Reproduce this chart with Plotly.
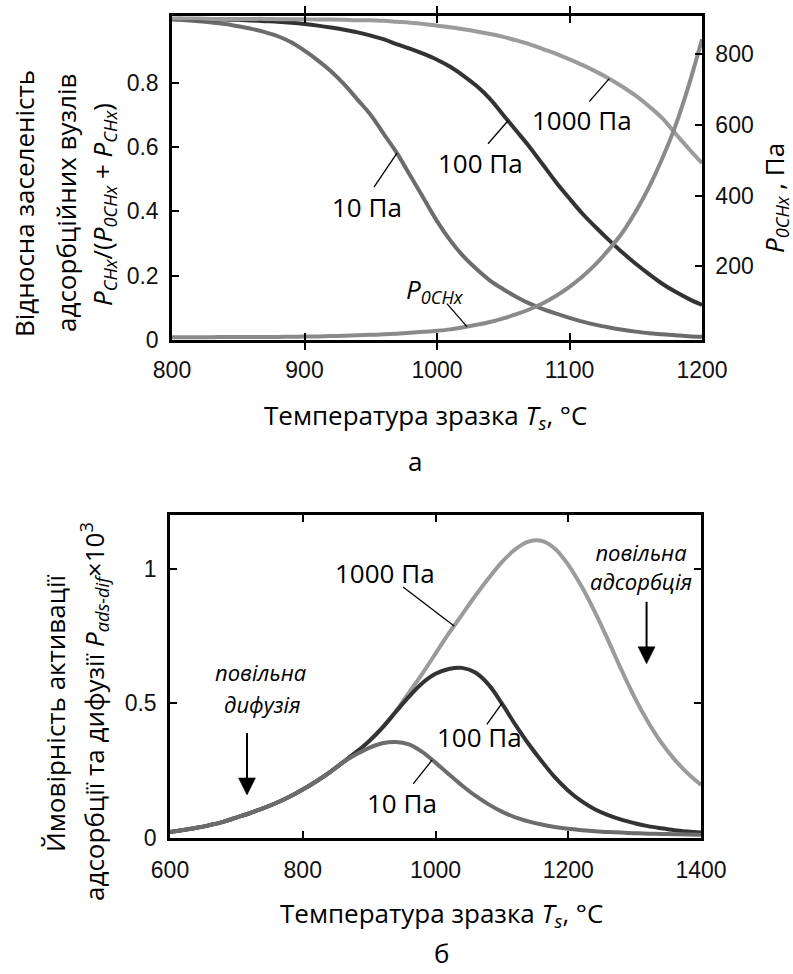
import numpy as np
import plotly.graph_objects as go

# ---------- panel (а): site occupancy vs temperature ----------
temp_a = [800, 810, 820, 830, 840, 850, 860, 870, 880, 890,
          900, 910, 920, 930, 940, 950, 960, 970, 980, 990,
          1000, 1010, 1020, 1030, 1040, 1050, 1060, 1070, 1080, 1090,
          1100, 1110, 1120, 1130, 1140, 1150, 1160, 1170, 1180, 1190, 1200]

occ_10pa = [0.997, 0.995, 0.992, 0.988, 0.983, 0.976, 0.968, 0.958, 0.945, 0.926,
            0.900, 0.870, 0.836, 0.795, 0.748, 0.700, 0.640, 0.580, 0.510, 0.440,
            0.370, 0.310, 0.260, 0.220, 0.185, 0.158, 0.134, 0.113, 0.096, 0.082,
            0.069, 0.057, 0.047, 0.039, 0.032, 0.026, 0.021, 0.018, 0.015, 0.012, 0.010]

occ_100pa = [0.999, 0.999, 0.998, 0.998, 0.997, 0.996, 0.994, 0.992, 0.990, 0.987,
             0.983, 0.978, 0.972, 0.965, 0.957, 0.947, 0.935, 0.920, 0.906, 0.890,
             0.872, 0.850, 0.822, 0.790, 0.750, 0.700, 0.650, 0.600, 0.545, 0.490,
             0.440, 0.392, 0.350, 0.310, 0.272, 0.237, 0.205, 0.175, 0.150, 0.128, 0.109]

occ_1000pa = [1.000, 1.000, 1.000, 0.999, 0.999, 0.999, 0.999, 0.999, 0.998, 0.998,
              0.998, 0.997, 0.997, 0.996, 0.995, 0.995, 0.993, 0.990, 0.987, 0.983,
              0.978, 0.973, 0.967, 0.960, 0.952, 0.943, 0.932, 0.920, 0.905, 0.890,
              0.873, 0.855, 0.835, 0.813, 0.788, 0.760, 0.727, 0.690, 0.642, 0.595, 0.550]

p0_chx = [0.0, 0.0, 0.1, 0.1, 0.2, 0.3, 0.4, 0.6, 0.8, 1.2,
          1.6, 2.2, 3.0, 4.0, 5.2, 6.5, 8.0, 10.0, 12.5, 15.0,
          18.0, 22.0, 28.0, 35.0, 43.0, 53.0, 65.0, 79.0, 96.0, 117.0,
          142.0, 172.0, 207.0, 249.0, 296.0, 355.0, 424.0, 505.0, 598.0, 712.0, 842.0]

# ---------- panel (б): activation probability ----------
temp_b = [600, 620, 640, 660, 680, 700, 720, 740, 760, 780,
          800, 820, 840, 860, 880, 900, 920, 940, 960, 980,
          1000, 1020, 1040, 1060, 1080, 1100, 1120, 1140, 1160, 1180,
          1200, 1220, 1240, 1260, 1280, 1300, 1320, 1340, 1360, 1380, 1400]

prob_1000pa = [0.022, 0.030, 0.038, 0.048, 0.060, 0.076, 0.092, 0.110, 0.130, 0.153,
               0.180, 0.210, 0.243, 0.280, 0.318, 0.360, 0.410, 0.470, 0.540, 0.610,
               0.685, 0.760, 0.830, 0.900, 0.965, 1.025, 1.072, 1.101, 1.104, 1.075,
               1.015, 0.935, 0.840, 0.735, 0.625, 0.522, 0.432, 0.355, 0.292, 0.240, 0.197]

prob_100pa = [0.022, 0.030, 0.038, 0.048, 0.060, 0.076, 0.092, 0.110, 0.130, 0.153,
              0.180, 0.210, 0.243, 0.280, 0.318, 0.360, 0.410, 0.468, 0.525, 0.575,
              0.610, 0.628, 0.632, 0.615, 0.570, 0.500, 0.422, 0.350, 0.285, 0.225,
              0.176, 0.137, 0.107, 0.085, 0.068, 0.055, 0.044, 0.036, 0.029, 0.024, 0.020]

prob_10pa = [0.022, 0.030, 0.038, 0.048, 0.060, 0.076, 0.092, 0.110, 0.130, 0.153,
             0.180, 0.210, 0.243, 0.280, 0.310, 0.335, 0.352, 0.357, 0.348, 0.320,
             0.280, 0.237, 0.195, 0.157, 0.125, 0.098, 0.077, 0.062, 0.050, 0.041,
             0.034, 0.029, 0.025, 0.022, 0.020, 0.018, 0.016, 0.015, 0.014, 0.013, 0.012]

C_10 = "#6c6c6c"
C_100 = "#333333"
C_1000 = "#9b9b9b"
C_P0 = "#8a8a8a"

TXT = "Open Sans, Noto Sans, DejaVu Sans, sans-serif"
NUM = "Liberation Sans, Arial, sans-serif"
W, H = 793, 974
FS = 26

fig = go.Figure()

line_w = 4
fig.add_trace(go.Scatter(x=temp_a, y=occ_10pa, mode="lines", line=dict(color=C_10, width=line_w, shape="spline"), xaxis="x", yaxis="y"))
fig.add_trace(go.Scatter(x=temp_a, y=occ_100pa, mode="lines", line=dict(color=C_100, width=line_w, shape="spline"), xaxis="x", yaxis="y"))
fig.add_trace(go.Scatter(x=temp_a, y=occ_1000pa, mode="lines", line=dict(color=C_1000, width=line_w, shape="spline"), xaxis="x", yaxis="y"))
fig.add_trace(go.Scatter(x=temp_a, y=p0_chx, mode="lines", line=dict(color=C_P0, width=line_w, shape="spline"), xaxis="x", yaxis="y2"))

fig.add_trace(go.Scatter(x=temp_b, y=prob_1000pa, mode="lines", line=dict(color=C_1000, width=line_w, shape="spline"), xaxis="x2", yaxis="y3"))
fig.add_trace(go.Scatter(x=temp_b, y=prob_100pa, mode="lines", line=dict(color=C_100, width=line_w, shape="spline"), xaxis="x2", yaxis="y3"))
fig.add_trace(go.Scatter(x=temp_b, y=prob_10pa, mode="lines", line=dict(color=C_10, width=line_w, shape="spline"), xaxis="x2", yaxis="y3"))

axis_common = dict(
    showline=True, linecolor="black", linewidth=2.5,
    ticks="inside", ticklen=7, tickwidth=1.5, tickcolor="black",
    showgrid=False, zeroline=False, automargin=False,
    tickfont=dict(family=NUM, size=23, color="#111111"),
)

fig.update_layout(
    width=W, height=H,
    margin=dict(l=0, r=0, t=0, b=0, pad=0, autoexpand=False),
    paper_bgcolor="white", plot_bgcolor="white",
    showlegend=False,
    xaxis=dict(domain=[172 / W, 702 / W], range=[800, 1200], anchor="y",
               tickvals=[800, 900, 1000, 1100, 1200], mirror="allticks",
               ticklabelstandoff=8, **axis_common),
    yaxis=dict(domain=[1 - 340 / H, 1 - 16 / H], range=[0, 1.008], anchor="x",
               tickvals=[0, 0.2, 0.4, 0.6, 0.8], ticktext=["0", "0.2", "0.4", "0.6", "0.8"],
               mirror=True, ticklabelstandoff=6, **axis_common),
    yaxis2=dict(range=[-8, 908], overlaying="y", side="right", anchor="x",
                tickvals=[200, 400, 600, 800], ticklabelstandoff=6, **axis_common),
    xaxis2=dict(domain=[170 / W, 701 / W], range=[600, 1400], anchor="y3",
                tickvals=[600, 800, 1000, 1200, 1400], mirror="allticks",
                ticklabelstandoff=10, **axis_common),
    yaxis3=dict(domain=[1 - 838 / H, 1 - 515 / H], range=[0, 1.2], anchor="x2",
                tickvals=[0, 0.5, 1], ticktext=["0", "0.5", "1"], mirror="allticks",
                ticklabelstandoff=6, **axis_common),
)


def paper_text(px, py, text, size=FS, angle=0, italic=False):
    fig.add_annotation(
        x=px / W, y=1 - py / H, xref="paper", yref="paper",
        text=f"<i>{text}</i>" if italic else text,
        showarrow=False, textangle=angle,
        xanchor="center", yanchor="middle",
        font=dict(family=TXT, size=size, color="black"),
    )


def data_text(xr, yr, x, y, text, size=FS, italic=False):
    fig.add_annotation(
        x=x, y=y, xref=xr, yref=yr,
        text=f"<i>{text}</i>" if italic else text,
        showarrow=False, xanchor="center", yanchor="middle",
        font=dict(family=TXT, size=size, color="black"),
    )


def leader(xr, yr, temps, values, t, dx, dy):
    # thin pointer line from a point on a curve, offset (dx, dy) px (dy > 0 = downwards)
    fig.add_shape(
        type="line", xref=xr, yref=yr,
        xsizemode="pixel", ysizemode="pixel",
        xanchor=t, yanchor=float(np.interp(t, temps, values)),
        x0=0, y0=0, x1=dx, y1=-dy,
        line=dict(color="black", width=1.3),
    )


def down_arrow(xr, yr, x, y, length, head=17, half=8.5):
    # vertical arrow whose tip sits at (x, y)
    fig.add_shape(
        type="line", xref=xr, yref=yr, xsizemode="pixel", ysizemode="pixel",
        xanchor=x, yanchor=y, x0=0, x1=0, y0=head - 2, y1=length,
        line=dict(color="black", width=2),
    )
    fig.add_shape(
        type="path", xref=xr, yref=yr, xsizemode="pixel", ysizemode="pixel",
        xanchor=x, yanchor=y,
        path=f"M{-half},{head} L{half},{head} L0,0 Z",
        fillcolor="black", line=dict(color="black", width=0.5),
    )


# axis titles
paper_text(425, 416, "Температура зразка <i>T<sub>s</sub></i>, °C")
paper_text(415, 461, "а")
paper_text(24, 204, "Відносна заселеність", angle=-90)
paper_text(66, 203, "адсорбційних вузлів", angle=-90)
paper_text(103, 205, "<i>P</i><sub><i>CHx</i></sub>/(<i>P</i><sub><i>0CHx</i></sub> + <i>P</i><sub><i>CHx</i></sub>)", angle=-90)
paper_text(775, 198, "<i>P</i><sub><i>0CHx</i></sub> , Па", angle=-90)

paper_text(442, 914, "Температура зразка <i>T<sub>s</sub></i>, °C")
paper_text(441, 953, "б")
paper_text(55, 713, "Ймовірність активації", angle=-90)
paper_text(94, 712, "адсорбції та дифузії <i>P</i><sub><i>ads-dif</i></sub>×10<sup>3</sup>", angle=-90)

# panel (а) curve labels
data_text("x", "y", 946.8, 0.414, "10 Па")
data_text("x", "y", 1032.5, 0.551, "100 Па")
data_text("x", "y", 1109.4, 0.685, "1000 Па")
data_text("x", "y", 998.5, 0.156, "<i>P</i><sub><i>0CHx</i></sub>")
leader("x", "y", temp_a, occ_10pa, 969.8, -23, 34)
leader("x", "y", temp_a, occ_100pa, 1053.6, -20, 23)
leader("x", "y", temp_a, occ_1000pa, 1130.0, -20, 23)
leader("x", "y2", temp_a, p0_chx, 1022.6, -20, -23)

# panel (б) curve labels
data_text("x2", "y3", 924.0, 0.985, "1000 Па")
data_text("x2", "y3", 1065.7, 0.375, "100 Па")
data_text("x2", "y3", 949.7, 0.130, "10 Па")
leader("x2", "y3", temp_b, prob_1000pa, 1028.0, -51, -39)
leader("x2", "y3", temp_b, prob_100pa, 1100.0, -15, 21)
leader("x2", "y3", temp_b, prob_10pa, 995.0, -19, 24)

data_text("x2", "y3", 737, 0.617, "повільна", size=22, italic=True)
data_text("x2", "y3", 739, 0.498, "дифузія", size=22, italic=True)
down_arrow("x2", "y3", 716, 0.16, 62)

data_text("x2", "y3", 1310, 1.009, "повільна<br>адсорбція", size=22, italic=True)
down_arrow("x2", "y3", 1318, 0.647, 62)

fig.write_html("out.html")
